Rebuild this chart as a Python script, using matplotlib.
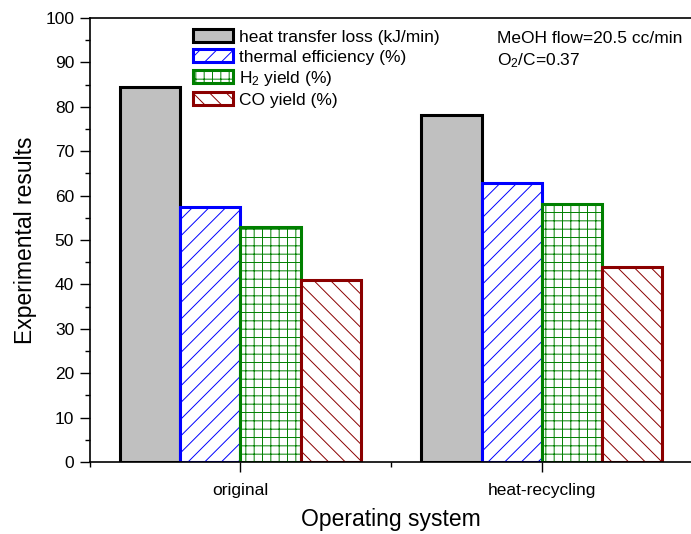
import matplotlib
matplotlib.use("Agg")
import matplotlib.pyplot as plt
import numpy as np

plt.rcParams['font.family'] = ['Liberation Sans', 'DejaVu Sans']
plt.rcParams['mathtext.fontset'] = 'custom'
plt.rcParams['mathtext.rm'] = 'Liberation Sans'
plt.rcParams['mathtext.it'] = 'Liberation Sans:italic'
plt.rcParams['hatch.linewidth'] = 0.7

categories = ['original', 'heat-recycling']
series_names = ['heat transfer loss (kJ/min)', 'thermal efficiency (%)',
                'H$_2$ yield (%)', 'CO yield (%)']
heat_loss = [84.5, 78.2]
thermal_eff = [57.5, 62.8]
h2_yield = [53.0, 58.0]
co_yield = [41.0, 44.0]
series = [heat_loss, thermal_eff, h2_yield, co_yield]

faces = ['#c0c0c0', 'white', 'white', 'white']
edges = ['black', '#0000ff', '#008000', '#8b0000']
hatches = [None, '//', '++', '\\\\']

fig = plt.figure(figsize=(6.91, 5.34), dpi=100)
ax = fig.add_axes([0.1298, 0.1348, 0.8725, 0.8315])

x = np.array([1, 2])
w = 0.2
offsets = [-1.5, -0.5, 0.5, 1.5]
for vals, fc, ec, h, name, off in zip(series, faces, edges, hatches, series_names, offsets):
    ax.bar(x + off * w, vals, width=w, facecolor=fc, edgecolor=ec, hatch=h,
           linewidth=2.2, label=name, zorder=2)

ax.set_xlim(0.5, 2.5)
ax.set_ylim(0, 100)
ax.set_yticks(np.arange(0, 101, 10))
ax.set_yticks(np.arange(5, 100, 10), minor=True)
ax.set_xticks(x)
ax.set_xticklabels(categories)
ax.set_xticks([0.5, 1.5, 2.5], minor=True)
ax.tick_params(axis='both', which='major', direction='out', length=7.2, width=1, labelsize=12.5)
ax.tick_params(axis='both', which='minor', direction='out', length=3.6, width=1)
ax.tick_params(axis='y', which='major', pad=4)
ax.tick_params(axis='x', which='major', pad=8)
for s in ax.spines.values():
    s.set_linewidth(1.2)

ax.set_ylabel('Experimental results', fontsize=16.5, labelpad=6)
ax.set_xlabel('Operating system', fontsize=16.5, labelpad=7)

ax.legend(loc='upper left', bbox_to_anchor=(0.171, 0.975), frameon=False, fontsize=12.5,
          handlelength=2.3, handleheight=0.8, labelspacing=0.24, handletextpad=0.35,
          borderaxespad=0.0, borderpad=0.0)

ax.text(0.6756, 0.9437, 'MeOH flow=20.5 cc/min', transform=ax.transAxes,
        fontsize=12.5, va='baseline', ha='left')
ax.text(0.6756, 0.894, 'O$_2$/C=0.37', transform=ax.transAxes,
        fontsize=12.5, va='baseline', ha='left')

fig.savefig('out.png', dpi=100)
